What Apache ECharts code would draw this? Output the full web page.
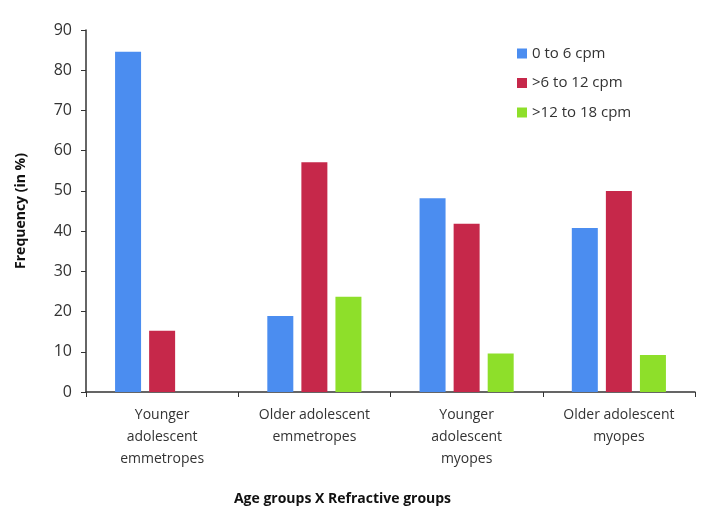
<!DOCTYPE html>
<html>
<head>
<meta charset="utf-8">
<script src="https://cdn.jsdelivr.net/npm/echarts@6/dist/echarts.min.js"></script>
<style>html,body{margin:0;padding:0;background:#fff;}#c{width:720px;height:526px;}</style>
</head>
<body>
<div id="c"></div>
<script>
var categories = ["Younger\nadolescent\nemmetropes", "Older adolescent\nemmetropes", "Younger\nadolescent\nmyopes", "Older adolescent\nmyopes"];
var seriesNames = ["0 to 6 cpm", ">6 to 12 cpm", ">12 to 18 cpm"];
var low = [84.6, 18.9, 48.2, 40.8];
var mid = [15.2, 57.1, 41.8, 50.0];
var high = [0, 23.7, 9.6, 9.2];
var yTicks = [0, 10, 20, 30, 40, 50, 60, 70, 80, 90];

var colors = ["#4B8DF0", "#C6284A", "#8EDF2A"];
var font = "'Open Sans', Lato, sans-serif";
var chart = echarts.init(document.getElementById('c'));
chart.setOption({
  animation: false,
  textStyle: {fontFamily: font},
  grid: {left: 86, right: 25, top: 30, bottom: 134},
  legend: {
    orient: 'vertical', left: 512, top: 41, itemWidth: 10, itemHeight: 10, itemGap: 14.5,
    textStyle: {fontSize: 15, color: '#333', fontFamily: font},
    data: seriesNames.map(function(n){ return {name: n, icon: 'rect'}; })
  },
  xAxis: {
    type: 'category', data: categories,
    name: 'Age groups X Refractive groups', nameLocation: 'middle', nameGap: 100,
    nameTextStyle: {fontSize: 14, fontWeight: 'bold', color: '#111', fontFamily: font, padding: [0, 96, 0, 0]},
    axisLine: {lineStyle: {color: '#333', width: 1.5}},
    axisTick: {show: true, alignWithLabel: false, length: 5, lineStyle: {color: '#333'}},
    axisLabel: {fontSize: 14, color: '#333', lineHeight: 22, margin: 12, interval: 0, fontFamily: font}
  },
  yAxis: {
    type: 'value', min: 0, max: 90, interval: 10,
    name: 'Frequency (in %)', nameLocation: 'middle', nameGap: 58, nameRotate: 90,
    nameTextStyle: {fontSize: 14, fontWeight: 'bold', color: '#111', fontFamily: font},
    axisLine: {show: true, lineStyle: {color: '#333', width: 1.5}},
    axisTick: {show: true, length: 5, lineStyle: {color: '#333'}},
    splitLine: {show: false},
    axisLabel: {fontSize: 16, color: '#333', margin: 14, fontFamily: font,
      formatter: function(v){ return yTicks.indexOf(v) >= 0 ? String(v) : ''; }}
  },
  series: [
    {name: seriesNames[0], type: 'bar', data: low, barWidth: 26, barGap: '31%', itemStyle: {color: colors[0]}},
    {name: seriesNames[1], type: 'bar', data: mid, barWidth: 26, barGap: '31%', itemStyle: {color: colors[1]}},
    {name: seriesNames[2], type: 'bar', data: high, barWidth: 26, barGap: '31%', itemStyle: {color: colors[2]}}
  ]
});
</script>
</body>
</html>
